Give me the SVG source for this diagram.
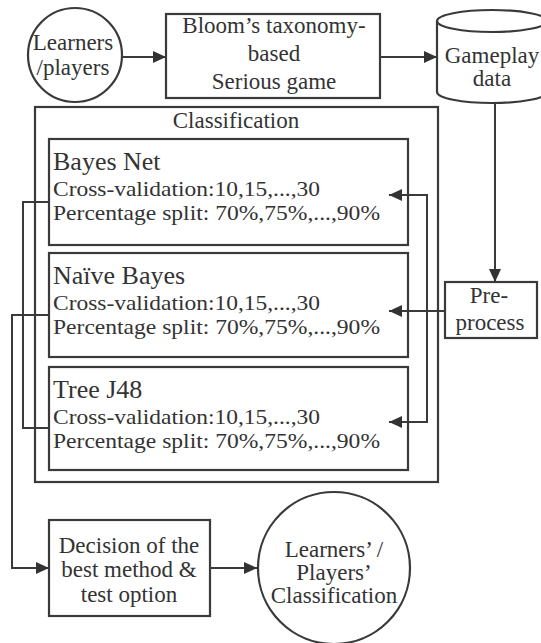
<svg xmlns="http://www.w3.org/2000/svg" width="541" height="643" viewBox="0 0 541 643">
  <style>
    .shape { fill: #ffffff; stroke: #3a3a3a; stroke-width: 2.2; }
    .frame { fill: none; stroke: #3a3a3a; stroke-width: 2.2; }
    .line { fill: none; stroke: #3a3a3a; stroke-width: 2; }
    text { font-family: "Liberation Serif", "Times New Roman", Tinos, "DejaVu Serif", "Noto Serif", serif; font-size: 23px; fill: #333333; }
    .c { text-anchor: middle; }
    .title { font-size: 26px; }
    .opt { font-size: 21.5px; }
  </style>
  <defs>
    <marker id="arrow" markerUnits="userSpaceOnUse" markerWidth="14" markerHeight="12" refX="13" refY="6" orient="auto">
      <path d="M0,0 L13,6 L0,12 Z" fill="#333333"/>
    </marker>
  </defs>
  <rect width="541" height="643" fill="#ffffff"/>

  <g id="classification">
    <rect class="frame" x="35" y="107" width="403" height="375"/>
    <text class="c" x="236" y="128">Classification</text>
  </g>

  <g id="learners">
    <circle class="shape" cx="75" cy="55" r="47"/>
    <text class="c" x="73" y="50">Learners</text>
    <text class="c" x="73" y="75">/players</text>
  </g>

  <g id="serious-game">
    <rect class="shape" x="166" y="14" width="214" height="84"/>
    <text class="c" x="274" y="33">Bloom’s taxonomy-</text>
    <text class="c" x="274" y="61">based</text>
    <text class="c" x="274" y="89">Serious game</text>
  </g>

  <g id="gameplay-data">
    <path class="shape" d="M437,21 V92 A55,11 0 0 0 547,92 V21"/>
    <ellipse class="shape" cx="492" cy="21" rx="55" ry="11"/>
    <text class="c" x="492" y="63">Gameplay</text>
    <text class="c" x="492" y="86">data</text>
  </g>

  <g id="bayes-net">
    <rect class="shape" x="49" y="139" width="359" height="106"/>
    <text class="title" x="53" y="170">Bayes Net</text>
    <text class="opt" x="53" y="196" textLength="267" lengthAdjust="spacingAndGlyphs">Cross-validation:10,15,...,30</text>
    <text class="opt" x="53" y="220" textLength="327" lengthAdjust="spacingAndGlyphs">Percentage split: 70%,75%,...,90%</text>
  </g>

  <g id="naive-bayes">
    <rect class="shape" x="49" y="253" width="359" height="104"/>
    <text class="title" x="53" y="284">Naïve Bayes</text>
    <text class="opt" x="53" y="310" textLength="267" lengthAdjust="spacingAndGlyphs">Cross-validation:10,15,...,30</text>
    <text class="opt" x="53" y="334" textLength="327" lengthAdjust="spacingAndGlyphs">Percentage split: 70%,75%,...,90%</text>
  </g>

  <g id="tree-j48">
    <rect class="shape" x="49" y="367" width="359" height="103"/>
    <text class="title" x="53" y="398">Tree J48</text>
    <text class="opt" x="53" y="424" textLength="267" lengthAdjust="spacingAndGlyphs">Cross-validation:10,15,...,30</text>
    <text class="opt" x="53" y="448" textLength="327" lengthAdjust="spacingAndGlyphs">Percentage split: 70%,75%,...,90%</text>
  </g>

  <g id="pre-process">
    <rect class="shape" x="445" y="282" width="92" height="56"/>
    <text class="c" x="489" y="303">Pre-</text>
    <text class="c" x="490" y="330">process</text>
  </g>

  <g id="decision">
    <rect class="shape" x="49" y="520" width="161" height="96"/>
    <text class="c" x="129" y="553">Decision of the</text>
    <text class="c" x="129" y="577">best method &amp;</text>
    <text class="c" x="129" y="602">test option</text>
  </g>

  <g id="players-classification">
    <circle class="shape" cx="334" cy="568" r="76"/>
    <text class="c" x="334" y="557">Learners’ /</text>
    <text class="c" x="334" y="580">Players’</text>
    <text class="c" x="334" y="603">Classification</text>
  </g>

  <!-- connectors, drawn over the boxes so the arrowheads reach inside -->
  <g id="connectors">
    <path class="line" d="M123,57 H166" marker-end="url(#arrow)"/>
    <path class="line" d="M380,57 H437" marker-end="url(#arrow)"/>
    <path class="line" d="M495,103 V282" marker-end="url(#arrow)"/>
    <path class="line" d="M445,311 H389" marker-end="url(#arrow)"/>
    <path class="line" d="M427,311 V195 H389" marker-end="url(#arrow)"/>
    <path class="line" d="M427,311 V422 H389" marker-end="url(#arrow)"/>
    <path class="line" d="M49,202 H23 V428 H49"/>
    <path class="line" d="M49,315 H12 V568 H49" marker-end="url(#arrow)"/>
    <path class="line" d="M210,568 H257" marker-end="url(#arrow)"/>
  </g>
</svg>
